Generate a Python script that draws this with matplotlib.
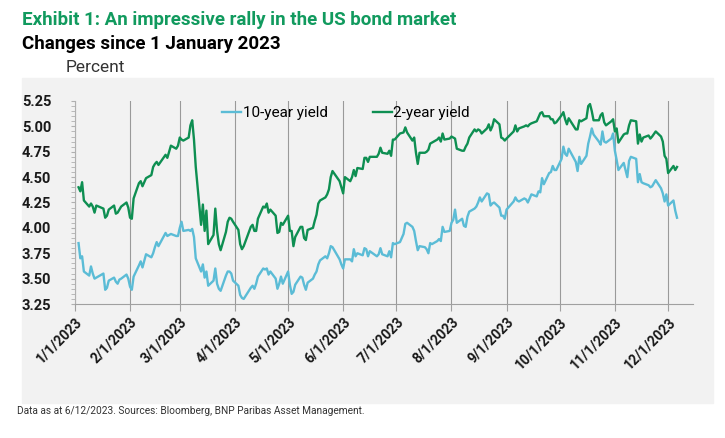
import pandas as pd
import matplotlib
matplotlib.use('Agg')
import matplotlib.pyplot as plt
import matplotlib.dates as mdates
from matplotlib.patches import Rectangle
from matplotlib.ticker import MultipleLocator, FuncFormatter

matplotlib.rcParams['font.family'] = ['Roboto', 'DejaVu Sans']

dates = ['2023-01-03', '2023-01-04', '2023-01-05', '2023-01-06', '2023-01-09', '2023-01-10', '2023-01-11',
         '2023-01-12', '2023-01-13', '2023-01-17', '2023-01-18', '2023-01-19', '2023-01-20', '2023-01-23',
         '2023-01-24', '2023-01-25', '2023-01-26', '2023-01-27', '2023-01-30', '2023-01-31', '2023-02-01',
         '2023-02-02', '2023-02-03', '2023-02-06', '2023-02-07', '2023-02-08', '2023-02-10', '2023-02-13',
         '2023-02-14', '2023-02-15', '2023-02-16', '2023-02-17', '2023-02-21', '2023-02-22', '2023-02-24',
         '2023-02-27', '2023-02-28', '2023-03-01', '2023-03-02', '2023-03-03', '2023-03-06', '2023-03-07',
         '2023-03-08', '2023-03-09', '2023-03-10', '2023-03-13', '2023-03-14', '2023-03-15', '2023-03-16',
         '2023-03-17', '2023-03-20', '2023-03-21', '2023-03-22', '2023-03-23', '2023-03-24', '2023-03-27',
         '2023-03-28', '2023-03-29', '2023-03-30', '2023-03-31', '2023-04-03', '2023-04-04', '2023-04-05',
         '2023-04-06', '2023-04-10', '2023-04-11', '2023-04-12', '2023-04-13', '2023-04-14', '2023-04-17',
         '2023-04-18', '2023-04-19', '2023-04-20', '2023-04-21', '2023-04-24', '2023-04-25', '2023-04-26',
         '2023-04-27', '2023-04-28', '2023-05-01', '2023-05-02', '2023-05-03', '2023-05-04', '2023-05-05',
         '2023-05-08', '2023-05-09', '2023-05-10', '2023-05-11', '2023-05-12', '2023-05-15', '2023-05-16',
         '2023-05-17', '2023-05-18', '2023-05-19', '2023-05-22', '2023-05-23', '2023-05-24', '2023-05-25',
         '2023-05-26', '2023-05-30', '2023-05-31', '2023-06-01', '2023-06-02', '2023-06-05', '2023-06-06',
         '2023-06-07', '2023-06-08', '2023-06-09', '2023-06-12', '2023-06-13', '2023-06-14', '2023-06-15',
         '2023-06-16', '2023-06-20', '2023-06-21', '2023-06-22', '2023-06-23', '2023-06-26', '2023-06-27',
         '2023-06-28', '2023-06-29', '2023-06-30', '2023-07-03', '2023-07-05', '2023-07-06', '2023-07-07',
         '2023-07-10', '2023-07-11', '2023-07-12', '2023-07-13', '2023-07-14', '2023-07-17', '2023-07-18',
         '2023-07-19', '2023-07-20', '2023-07-21', '2023-07-24', '2023-07-25', '2023-07-26', '2023-07-27',
         '2023-07-28', '2023-07-31', '2023-08-01', '2023-08-02', '2023-08-03', '2023-08-04', '2023-08-07',
         '2023-08-08', '2023-08-09', '2023-08-10', '2023-08-11', '2023-08-14', '2023-08-15', '2023-08-16',
         '2023-08-17', '2023-08-18', '2023-08-21', '2023-08-22', '2023-08-23', '2023-08-24', '2023-08-25',
         '2023-08-28', '2023-08-29', '2023-08-30', '2023-08-31', '2023-09-01', '2023-09-05', '2023-09-06',
         '2023-09-07', '2023-09-08', '2023-09-11', '2023-09-12', '2023-09-13', '2023-09-14', '2023-09-15',
         '2023-09-18', '2023-09-19', '2023-09-20', '2023-09-21', '2023-09-22', '2023-09-25', '2023-09-26',
         '2023-09-27', '2023-09-28', '2023-09-29', '2023-10-02', '2023-10-03', '2023-10-04', '2023-10-05',
         '2023-10-06', '2023-10-10', '2023-10-11', '2023-10-12', '2023-10-13', '2023-10-16', '2023-10-17',
         '2023-10-18', '2023-10-19', '2023-10-20', '2023-10-23', '2023-10-24', '2023-10-25', '2023-10-26',
         '2023-10-27', '2023-10-30', '2023-10-31', '2023-11-01', '2023-11-02', '2023-11-03', '2023-11-06',
         '2023-11-07', '2023-11-08', '2023-11-09', '2023-11-10', '2023-11-13', '2023-11-14', '2023-11-15',
         '2023-11-16', '2023-11-17', '2023-11-20', '2023-11-21', '2023-11-22', '2023-11-24', '2023-11-27',
         '2023-11-28', '2023-11-29', '2023-11-30', '2023-12-01', '2023-12-04', '2023-12-05', '2023-12-06']

yield_10y = [3.85, 3.70, 3.72, 3.57, 3.53, 3.62, 3.55,
             3.50, 3.51, 3.55, 3.39, 3.41, 3.48, 3.51,
             3.47, 3.45, 3.49, 3.50, 3.54, 3.50, 3.42,
             3.39, 3.52, 3.63, 3.67, 3.61, 3.74, 3.71,
             3.75, 3.81, 3.86, 3.82, 3.95, 3.92, 3.94,
             3.92, 3.92, 4.00, 4.06, 3.97, 3.98, 3.97,
             3.99, 3.91, 3.70, 3.57, 3.64, 3.51, 3.57,
             3.43, 3.48, 3.60, 3.45, 3.40, 3.38, 3.53,
             3.57, 3.57, 3.55, 3.48, 3.43, 3.34, 3.31,
             3.30, 3.41, 3.43, 3.40, 3.45, 3.52, 3.60,
             3.59, 3.60, 3.54, 3.57, 3.50, 3.40, 3.45,
             3.52, 3.45, 3.57, 3.44, 3.35, 3.37, 3.44,
             3.52, 3.51, 3.44, 3.39, 3.46, 3.50, 3.54,
             3.57, 3.64, 3.68, 3.72, 3.70, 3.75, 3.82,
             3.81, 3.69, 3.64, 3.60, 3.69, 3.69, 3.67,
             3.79, 3.72, 3.75, 3.73, 3.80, 3.79, 3.72,
             3.77, 3.72, 3.74, 3.80, 3.74, 3.72, 3.77,
             3.71, 3.85, 3.84, 3.86, 3.94, 4.04, 4.05,
             4.01, 3.97, 3.87, 3.78, 3.82, 3.81, 3.79,
             3.75, 3.85, 3.84, 3.87, 3.89, 3.87, 4.01,
             3.96, 3.97, 4.05, 4.08, 4.18, 4.05, 4.09,
             4.02, 4.01, 4.11, 4.16, 4.19, 4.21, 4.25,
             4.30, 4.26, 4.34, 4.33, 4.22, 4.24, 4.25,
             4.20, 4.12, 4.12, 4.09, 4.18, 4.26, 4.30,
             4.27, 4.26, 4.29, 4.28, 4.25, 4.29, 4.33,
             4.31, 4.36, 4.35, 4.49, 4.43, 4.54, 4.55,
             4.61, 4.57, 4.57, 4.68, 4.80, 4.73, 4.71,
             4.78, 4.65, 4.56, 4.70, 4.63, 4.71, 4.83,
             4.90, 4.98, 4.92, 4.85, 4.82, 4.95, 4.85,
             4.84, 4.88, 4.93, 4.76, 4.67, 4.57, 4.64,
             4.57, 4.50, 4.66, 4.70, 4.68, 4.45, 4.53,
             4.45, 4.44, 4.42, 4.40, 4.41, 4.47, 4.39,
             4.34, 4.26, 4.33, 4.22, 4.27, 4.17, 4.10]

yield_2y = [4.40, 4.36, 4.45, 4.27, 4.21, 4.24, 4.21,
            4.15, 4.22, 4.19, 4.10, 4.12, 4.18, 4.22,
            4.14, 4.15, 4.18, 4.21, 4.25, 4.20, 4.10,
            4.09, 4.29, 4.44, 4.46, 4.41, 4.49, 4.52,
            4.60, 4.63, 4.65, 4.62, 4.72, 4.69, 4.81,
            4.78, 4.81, 4.89, 4.87, 4.86, 4.89, 5.01,
            5.06, 4.87, 4.60, 4.03, 4.23, 3.97, 4.17,
            3.84, 3.93, 4.19, 3.97, 3.84, 3.78, 3.96,
            4.06, 4.10, 4.09, 4.06, 3.98, 3.84, 3.79,
            3.82, 4.01, 4.03, 3.97, 3.97, 4.09, 4.21,
            4.20, 4.24, 4.15, 4.18, 4.12, 3.95, 3.96,
            4.05, 4.03, 4.12, 3.97, 3.97, 3.82, 3.91,
            4.01, 4.01, 3.90, 3.88, 3.98, 4.00, 4.07,
            4.13, 4.24, 4.27, 4.30, 4.33, 4.38, 4.50,
            4.56, 4.46, 4.40, 4.34, 4.50, 4.46, 4.50,
            4.57, 4.51, 4.59, 4.58, 4.69, 4.69, 4.65,
            4.70, 4.70, 4.73, 4.79, 4.74, 4.73, 4.76,
            4.71, 4.87, 4.87, 4.93, 4.94, 4.99, 4.94,
            4.86, 4.89, 4.74, 4.63, 4.74, 4.74, 4.75,
            4.77, 4.83, 4.84, 4.87, 4.89, 4.85, 4.93,
            4.87, 4.88, 4.90, 4.89, 4.88, 4.78, 4.76,
            4.76, 4.80, 4.83, 4.89, 4.97, 4.95, 4.97,
            4.96, 4.93, 4.98, 5.02, 4.96, 5.00, 5.07,
            5.02, 4.89, 4.88, 4.86, 4.88, 4.95, 5.01,
            4.95, 4.98, 5.00, 5.01, 5.00, 5.02, 5.03,
            5.05, 5.09, 5.13, 5.14, 5.10, 5.10, 5.07,
            5.07, 5.03, 5.04, 5.11, 5.14, 5.07, 5.02,
            5.08, 4.97, 4.97, 5.06, 5.05, 5.08, 5.20,
            5.22, 5.15, 5.06, 5.06, 5.11, 5.13, 5.04,
            5.01, 5.05, 5.07, 4.95, 4.98, 4.84, 4.92,
            4.93, 4.93, 5.01, 5.06, 5.05, 4.83, 4.92,
            4.85, 4.89, 4.91, 4.88, 4.90, 4.95, 4.90,
            4.85, 4.71, 4.68, 4.54, 4.61, 4.57, 4.60]

month_ticks = pd.date_range('2023-01-01', '2023-12-01', freq='MS')

green = '#0e8f52'
blue = '#5bbcd6'

fig = plt.figure(figsize=(7.25, 4.38), dpi=100)
fig.patches.append(Rectangle((22 / 725, 1 - 403 / 438), 691 / 725, 325 / 438,
                             transform=fig.transFigure, color='#f2f2f2', zorder=-10))

ax = fig.add_axes([75 / 725, 1 - 304 / 438, 618 / 725, 203 / 438])
ax.set_facecolor('none')

x = pd.to_datetime(dates)
ax.plot(x, yield_10y, color=blue, lw=1.7, label='10-year yield')
ax.plot(x, yield_2y, color=green, lw=1.7, label='2-year yield')

ax.set_ylim(3.25, 5.25)
ax.set_xlim(pd.Timestamp('2023-01-01'), pd.Timestamp('2023-12-15'))
ax.yaxis.set_major_locator(MultipleLocator(0.25))
ax.yaxis.set_minor_locator(MultipleLocator(0.05))
ax.yaxis.set_major_formatter(FuncFormatter(lambda v, p: f'{v:.2f}'))
ax.set_xticks(month_ticks)
ax.xaxis.set_major_formatter(FuncFormatter(
    lambda v, p: (lambda d: f'{d.month}/{d.day}/{d.year}')(mdates.num2date(v))))

ax.grid(axis='x', color='#9a9a9a', lw=0.8)
ax.set_axisbelow(True)
for s in ['top', 'right']:
    ax.spines[s].set_visible(False)
ax.spines['left'].set_color('#b0b0b0')
ax.spines['bottom'].set_color('#a0a0a0')
ax.tick_params(axis='y', which='both', length=3, color='#b0b0b0', pad=14,
               labelsize=10.5, labelcolor='#1a1a1a')
ax.tick_params(axis='x', length=5, color='#a0a0a0', pad=3, labelsize=10, labelcolor='#1a1a1a')
for lab in ax.get_yticklabels():
    lab.set_fontweight('bold')
for lab in ax.get_xticklabels():
    lab.set_rotation(45)
    lab.set_ha('right')
    lab.set_rotation_mode('anchor')
    lab.set_fontweight('bold')

ax.legend(loc='center left', bbox_to_anchor=(0.238, 0.94), ncol=2, frameon=False,
          fontsize=11, handlelength=1.25, handletextpad=0.1, columnspacing=2.95,
          borderpad=0, borderaxespad=0)

fig.text(22 / 725, 1 - 20 / 438, 'Exhibit 1: An impressive rally in the US bond market',
         color='#119a5e', fontsize=13.5, fontweight='bold', va='center')
fig.text(22 / 725, 1 - 44 / 438, 'Changes since 1 January 2023',
         color='black', fontsize=13.5, fontweight='bold', va='center')
fig.text(66 / 725, 1 - 67 / 438, 'Percent', color='#333333', fontsize=12.5, va='center')
fig.text(17 / 725, 1 - 411 / 438,
         'Data as at 6/12/2023. Sources: Bloomberg, BNP Paribas Asset Management.',
         color='#333333', fontsize=7.3, va='center',
         family=['Liberation Sans Narrow', 'Roboto', 'DejaVu Sans'])

fig.savefig('out.png', dpi=100)
